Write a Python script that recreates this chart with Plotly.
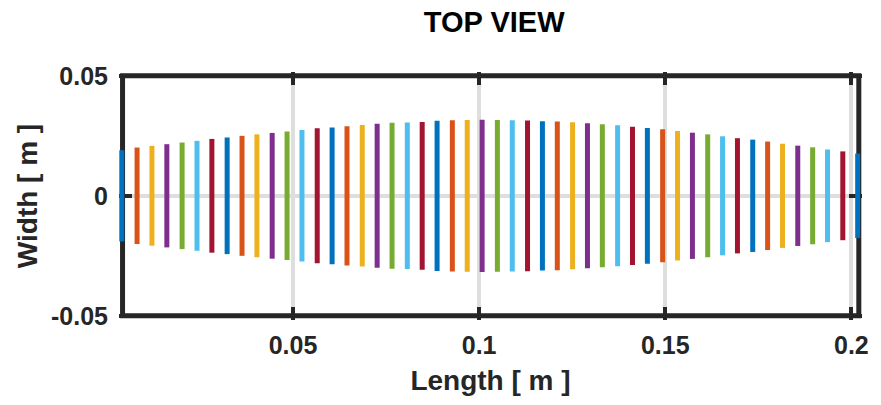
import plotly.graph_objects as go

# Station positions along the hull length [m]
stations = [
    0.0040, 0.0081, 0.0121, 0.0161, 0.0202, 0.0242, 0.0282, 0.0323, 0.0363, 0.0403,
    0.0444, 0.0484, 0.0524, 0.0565, 0.0605, 0.0645, 0.0686, 0.0726, 0.0766, 0.0807,
    0.0847, 0.0887, 0.0928, 0.0968, 0.1008, 0.1049, 0.1089, 0.1130, 0.1170, 0.1210,
    0.1251, 0.1291, 0.1331, 0.1372, 0.1412, 0.1452, 0.1493, 0.1533, 0.1573, 0.1614,
    0.1654, 0.1694, 0.1735, 0.1775, 0.1815, 0.1856, 0.1896, 0.1936, 0.1977, 0.2017,
]

# Half-width of each station section [m]
half_width = [
    0.0190, 0.0201, 0.0208, 0.0215, 0.0222, 0.0229, 0.0237, 0.0243, 0.0250, 0.0256,
    0.0262, 0.0268, 0.0274, 0.0281, 0.0285, 0.0290, 0.0295, 0.0300, 0.0304, 0.0305,
    0.0308, 0.0313, 0.0315, 0.0316, 0.0317, 0.0316, 0.0315, 0.0314, 0.0311, 0.0310,
    0.0306, 0.0302, 0.0298, 0.0294, 0.0288, 0.0283, 0.0277, 0.0270, 0.0263, 0.0256,
    0.0248, 0.0240, 0.0234, 0.0226, 0.0217, 0.0209, 0.0202, 0.0193, 0.0185, 0.0176,
]

# Line colour cycle
palette = ["#0072BD", "#D95319", "#EDB120", "#7E2F8E", "#77AC30", "#4DBEEE", "#A2142F"]

x_ticks = [0.05, 0.1, 0.15, 0.2]
x_tick_text = ["0.05", "0.1", "0.15", "0.2"]
y_ticks = [-0.05, 0, 0.05]
y_tick_text = ["-0.05", "0", "0.05"]

x_lim = [0.0042, 0.2020]
y_lim = [-0.05, 0.05]

AX_COLOR = "#262626"
GRID_COLOR = "#dedede"
FONT = "Liberation Sans, Arial, sans-serif"

fig = go.Figure()

for i, (xs, hw) in enumerate(zip(stations, half_width)):
    fig.add_trace(go.Scatter(
        x=[xs, xs], y=[-hw, hw],
        mode="lines",
        line=dict(color=palette[i % len(palette)], width=5),
        hoverinfo="skip",
        showlegend=False,
    ))

# Axes box
fig.add_shape(
    type="rect", xref="x", yref="y",
    x0=x_lim[0], x1=x_lim[1], y0=y_lim[0], y1=y_lim[1],
    line=dict(color=AX_COLOR, width=5),
    layer="between",
)

fig.update_layout(
    width=881, height=405,
    margin=dict(l=119, r=12, t=72, b=85),
    paper_bgcolor="white",
    plot_bgcolor="white",
    font=dict(family=FONT, color=AX_COLOR),
    title=dict(
        text="<b>TOP VIEW</b>",
        x=(122.5 + 865.8) / 2 / 881, xanchor="center",
        y=1 - 22 / 405, yanchor="middle",
        font=dict(family=FONT, size=29, color="#000000"),
    ),
    xaxis=dict(
        range=[0.003247, 0.202858],
        tickvals=x_ticks, ticktext=[f"<b>{t}</b>" for t in x_tick_text],
        tickfont=dict(size=25, color=AX_COLOR),
        ticks="inside", ticklen=13, tickwidth=4, tickcolor=AX_COLOR,
        ticklabelstandoff=8,
        mirror="ticks", showline=False, zeroline=False,
        showgrid=True, gridcolor=GRID_COLOR, gridwidth=4,
        title=dict(text="<b>Length [ m ]</b>", font=dict(size=28, color=AX_COLOR), standoff=12),
        layer="below traces",
    ),
    yaxis=dict(
        range=[-0.05175, 0.051583],
        tickvals=y_ticks, ticktext=[f"<b>{t}</b>" for t in y_tick_text],
        tickfont=dict(size=25, color=AX_COLOR),
        ticks="inside", ticklen=13, tickwidth=4, tickcolor=AX_COLOR,
        ticklabelstandoff=10,
        mirror="ticks", showline=False, zeroline=False,
        showgrid=True, gridcolor=GRID_COLOR, gridwidth=4,
        title=dict(text="<b>Width [ m ]</b>", font=dict(size=28, color=AX_COLOR), standoff=5),
        layer="below traces",
    ),
)

fig.write_html("out.html")
